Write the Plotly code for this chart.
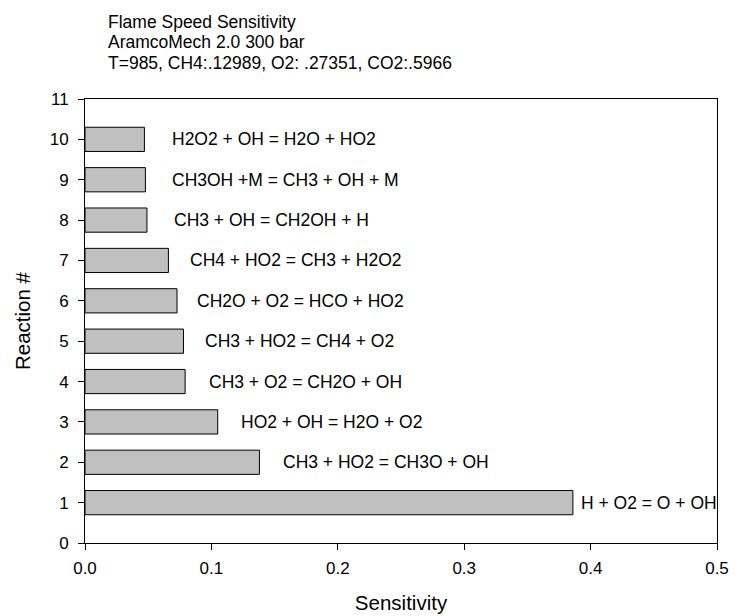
import plotly.graph_objects as go

# Reaction index, sensitivity and reaction equation for each bar
reaction_num = [1, 2, 3, 4, 5, 6, 7, 8, 9, 10]
sensitivity = [0.386, 0.138, 0.105, 0.0792, 0.0779, 0.0728, 0.066, 0.049, 0.0478, 0.047]
reactions = [
    "H + O2 = O + OH",
    "CH3 + HO2 = CH3O + OH",
    "HO2 + OH = H2O + O2",
    "CH3 + O2 = CH2O + OH",
    "CH3 + HO2 = CH4 + O2",
    "CH2O + O2 = HCO + HO2",
    "CH4 + HO2 = CH3 + H2O2",
    "CH3 + OH = CH2OH + H",
    "CH3OH +M = CH3 + OH + M",
    "H2O2 + OH = H2O + HO2",
]
# x position (in sensitivity units) where each reaction label begins
label_x = [0.391, 0.1554, 0.1216, 0.0966, 0.0932, 0.0868, 0.0818, 0.0692, 0.067, 0.0676]

title_lines = [
    "Flame Speed Sensitivity",
    "AramcoMech 2.0 300 bar",
    "T=985, CH4:.12989, O2: .27351, CO2:.5966",
]

x_ticks = [0.0, 0.1, 0.2, 0.3, 0.4, 0.5]
y_ticks = list(range(0, 12))

FONT = "Liberation Sans, Arial, sans-serif"
FS_TEXT = 17.5   # heading and reaction labels
FS_TICK = 17
FS_AXIS = 20.5
W, H = 744, 616
M_L, M_R, M_T, M_B = 85, 27, 99, 73
PLOT_W = W - M_L - M_R
PLOT_H = H - M_T - M_B


def px_to_paper_x(px):
    return (px - M_L) / PLOT_W


def px_to_paper_y(py):
    return (H - M_B - py) / PLOT_H


fig = go.Figure()
fig.add_trace(go.Bar(
    x=sensitivity,
    y=reaction_num,
    orientation="h",
    width=0.6,
    marker=dict(color="#C0C0C0", line=dict(color="#000000", width=1)),
    showlegend=False,
    hoverinfo="x+y",
))

for lx, ly, txt in zip(label_x, reaction_num, reactions):
    fig.add_annotation(
        x=lx, y=ly, text=txt, showarrow=False,
        xanchor="left", yanchor="middle", xref="x", yref="y",
        font=dict(family=FONT, size=FS_TEXT, color="#000000"),
    )

# Three-line heading above the plot area
for i, line in enumerate(title_lines):
    fig.add_annotation(
        x=px_to_paper_x(106), y=px_to_paper_y(21.5 + 21 * i),
        xref="paper", yref="paper", xanchor="left", yanchor="middle",
        text=line, showarrow=False,
        font=dict(family=FONT, size=FS_TEXT, color="#000000"),
    )

fig.update_layout(
    width=W, height=H,
    margin=dict(l=M_L, r=M_R, t=M_T, b=M_B),
    paper_bgcolor="white", plot_bgcolor="white",
    font=dict(family=FONT, size=FS_TICK, color="#000000"),
    xaxis=dict(
        range=[0, 0.5], tickvals=x_ticks, ticktext=[f"{v:.1f}" for v in x_ticks],
        ticks="outside", ticklen=6, tickcolor="#000000", tickwidth=1,
        showline=True, linecolor="#000000", linewidth=1, mirror=True,
        showgrid=False, zeroline=False, ticklabelstandoff=4, automargin=False,
        tickfont=dict(family=FONT, size=FS_TICK),
        title=dict(text="Sensitivity", standoff=18, font=dict(family=FONT, size=FS_AXIS)),
    ),
    yaxis=dict(
        range=[0, 11], tickvals=y_ticks,
        ticks="outside", ticklen=6, tickcolor="#000000", tickwidth=1,
        showline=True, linecolor="#000000", linewidth=1, mirror=True,
        showgrid=False, zeroline=False, ticklabelstandoff=6, automargin=False,
        tickfont=dict(family=FONT, size=FS_TICK),
        title=dict(text="Reaction #", standoff=13, font=dict(family=FONT, size=FS_AXIS)),
    ),
)

fig.write_html("out.html")
